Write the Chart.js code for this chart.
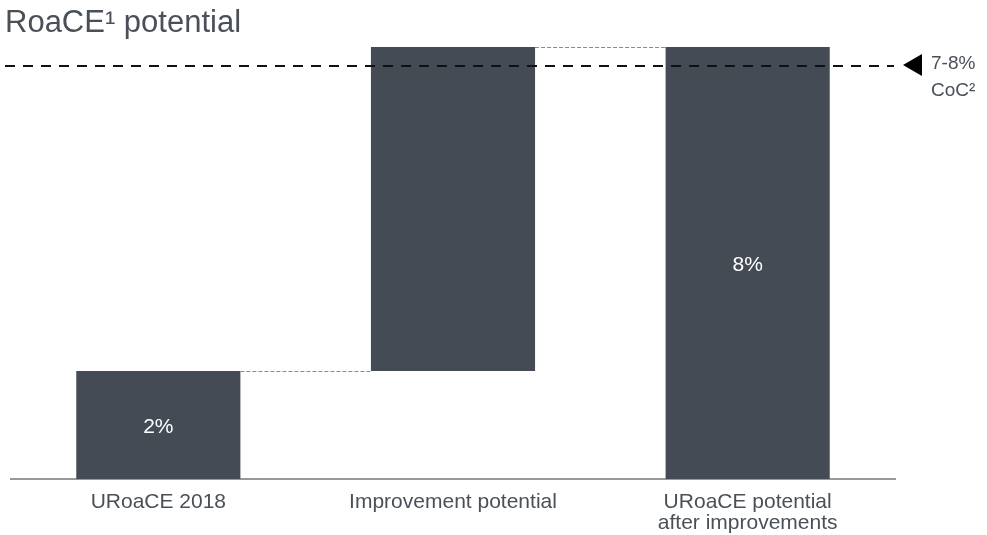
<!DOCTYPE html>
<html>
<head>
<meta charset="utf-8">
<script src="https://cdn.jsdelivr.net/npm/chart.js@4"></script>
<style>
  html, body { margin: 0; padding: 0; background: #fff; }
  #wrap { width: 987px; height: 535px; position: relative; }
</style>
</head>
<body>
<div id="wrap"><canvas id="myChart" width="987" height="535"></canvas></div>
<script>
// setup
const categories = ['URoaCE 2018', 'Improvement potential', ['URoaCE potential', 'after improvements']];
const barRanges = [[0, 2], [2, 8], [0, 8]];
const valueLabels = ['2%', '', '8%'];
const cocLevel = 7.65;
const cocLabels = ['7-8%', 'CoC²'];

const barColor = '#444b54';
const textColor = '#4a5058';
const font = '"Liberation Sans", Arial, sans-serif';

// title, category names, bar labels, connectors and the CoC line
const decorations = {
  id: 'decorations',
  afterDatasetsDraw(chart) {
    const ctx = chart.ctx;
    const meta = chart.getDatasetMeta(0);
    const x = chart.scales.x;
    const y = chart.scales.y;
    const area = chart.chartArea;
    ctx.save();

    // connectors between bars
    ctx.strokeStyle = '#8a8a8a';
    ctx.lineWidth = 1;
    ctx.setLineDash([4, 2]);
    for (let i = 0; i < meta.data.length - 1; i++) {
      const a = meta.data[i], b = meta.data[i + 1];
      const ly = Math.round(y.getPixelForValue(barRanges[i][1])) + 0.5;
      ctx.beginPath();
      ctx.moveTo(a.x + a.width / 2, ly);
      ctx.lineTo(b.x - b.width / 2, ly);
      ctx.stroke();
    }

    // value labels inside bars
    ctx.setLineDash([]);
    ctx.fillStyle = '#ffffff';
    ctx.font = '21px ' + font;
    ctx.textAlign = 'center';
    ctx.textBaseline = 'middle';
    meta.data.forEach((bar, i) => {
      if (!valueLabels[i]) return;
      const mid = (y.getPixelForValue(barRanges[i][0]) + y.getPixelForValue(barRanges[i][1])) / 2;
      ctx.fillText(valueLabels[i], bar.x, mid + 2);
    });

    // category names under the axis
    ctx.fillStyle = textColor;
    ctx.textBaseline = 'alphabetic';
    categories.forEach((c, i) => {
      const lines = Array.isArray(c) ? c : [c];
      const cx = x.getPixelForValue(i);
      lines.forEach((t, j) => ctx.fillText(t, cx, area.bottom + 29 + j * 21));
    });

    // cost of capital line
    const cy = Math.round(y.getPixelForValue(cocLevel));
    ctx.strokeStyle = '#111111';
    ctx.lineWidth = 2;
    ctx.setLineDash([10, 8]);
    ctx.beginPath();
    ctx.moveTo(5, cy);
    ctx.lineTo(area.right - 1, cy);
    ctx.stroke();
    ctx.setLineDash([]);

    ctx.fillStyle = '#000000';
    ctx.beginPath();
    ctx.moveTo(903, cy - 1);
    ctx.lineTo(922, cy - 12);
    ctx.lineTo(922, cy + 10);
    ctx.closePath();
    ctx.fill();

    ctx.fillStyle = textColor;
    ctx.font = '19px ' + font;
    ctx.textAlign = 'left';
    ctx.fillText(cocLabels[0], 931, cy + 3);
    ctx.fillText(cocLabels[1], 931, cy + 30);
    ctx.restore();

    // title
    ctx.save();
    ctx.fillStyle = textColor;
    ctx.font = '31px ' + font;
    ctx.textAlign = 'left';
    ctx.textBaseline = 'alphabetic';
    ctx.fillText('RoaCE¹ potential', 5, 32);
    ctx.restore();
  }
};

// config
const config = {
  type: 'bar',
  data: {
    labels: categories,
    datasets: [{
      data: barRanges,
      backgroundColor: barColor,
      borderWidth: 0,
      barPercentage: 0.557,
      categoryPercentage: 1
    }]
  },
  options: {
    responsive: false,
    animation: false,
    layout: { padding: { left: 11, right: 92, top: 47, bottom: 48 } },
    plugins: {
      legend: { display: false },
      tooltip: { enabled: false }
    },
    scales: {
      x: {
        grid: { display: false },
        border: { color: '#999999', width: 2 },
        ticks: { display: false }
      },
      y: {
        display: false,
        min: 0,
        max: 8
      }
    }
  },
  plugins: [decorations]
};

// render init block
const myChart = new Chart(document.getElementById('myChart'), config);
</script>
</body>
</html>
